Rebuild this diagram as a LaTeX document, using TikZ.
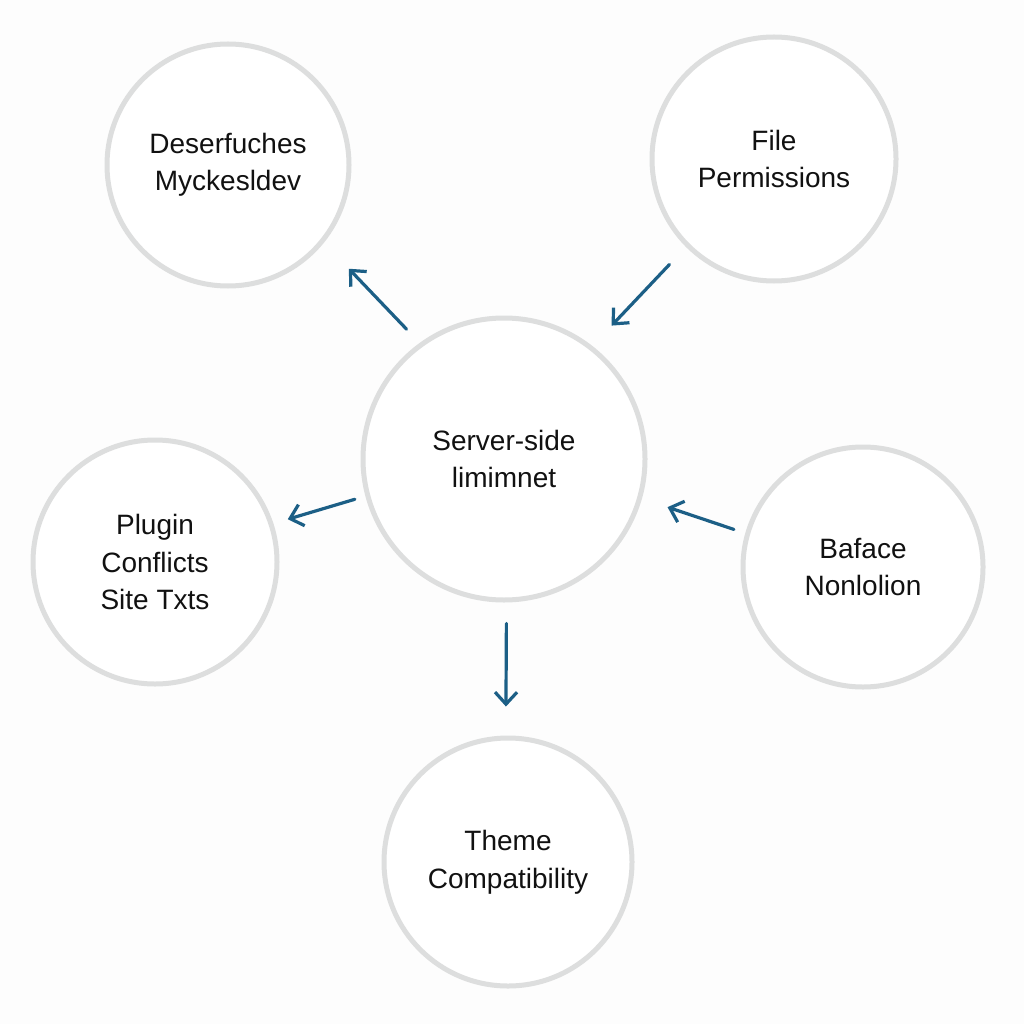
\documentclass[tikz,border=0pt]{standalone}
\usepackage{fontspec}
\setmainfont{Liberation Sans}
\usetikzlibrary{arrows.meta}
\definecolor{ringgray}{HTML}{DDDEDE}
\definecolor{arrowblue}{HTML}{1C5F86}
\definecolor{txt}{HTML}{111111}
\definecolor{bg}{HTML}{FDFDFD}
\tikzset{
  bubble/.style={circle, draw=ringgray, line width=5pt, fill=white, inner sep=0pt,
    align=center, text=txt, font=\fontsize{28}{37.5}\selectfont},
  link/.style={draw=arrowblue, line width=3.2pt, line cap=round,
    -{Straight Barb[length=12pt,width=22pt,line width=3.2pt]}}
}
\begin{document}
\begin{tikzpicture}[x=1pt,y=-1pt]
\fill[bg] (0,0) rectangle (1024,1024);
\useasboundingbox (0,0) rectangle (1024,1024);
\node[bubble, minimum size=242pt] (tl) at (228,165) {Deserfuches\\Myckesldev};
\node[bubble, minimum size=244pt] (tr) at (774,159) {File\\Permissions};
\node[bubble, minimum size=282pt] (c) at (504,459) {Server-side\\limimnet};
\node[bubble, minimum size=244pt] (l) at (155,562) {Plugin\\Conflicts\\Site Txts};
\node[bubble, minimum size=240pt] (r) at (863,567) {Baface\\Nonlolion};
\node[bubble, minimum size=248pt] (b) at (508,862) {Theme\\Compatibility};
\draw[link, shorten <=19pt, shorten >=36pt] (c.126) -- (tl.-39);
\draw[link, shorten <=24pt, shorten >=28pt] (tr.225) -- (c.52);
\draw[link, shorten <=11pt, shorten >=15pt] (c.195) -- (l.18.7);
\draw[link, shorten <=12pt, shorten >=27pt] (r.164.6) -- (c.-16.9);
\draw[link, shorten <=21pt, shorten >=29pt] (c.-89) -- (b.91);
\end{tikzpicture}
\end{document}
